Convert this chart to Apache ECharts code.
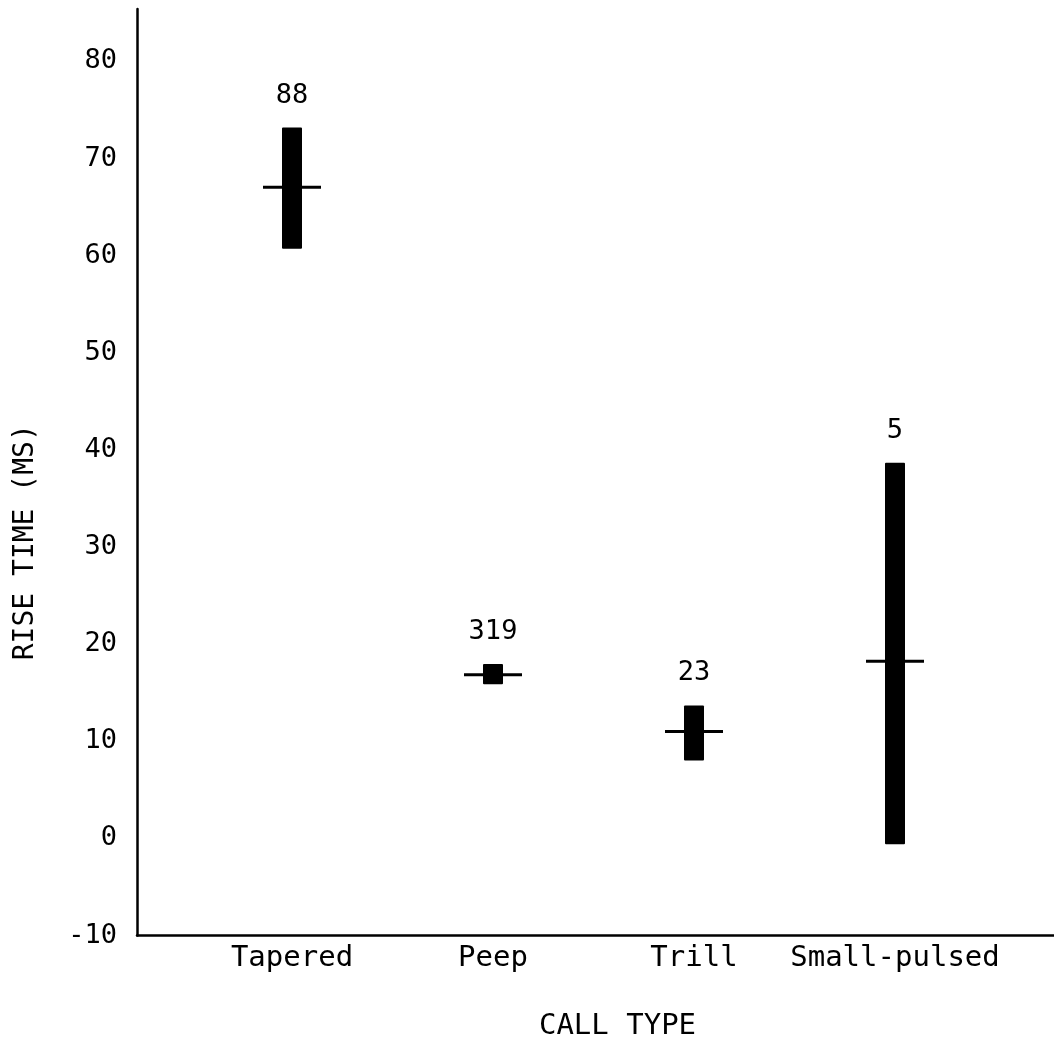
<!DOCTYPE html>
<html>
<head>
<meta charset="utf-8">
<script src="https://cdn.jsdelivr.net/npm/echarts@6/dist/echarts.min.js"></script>
<style>
html,body{margin:0;padding:0;background:#fff;}
#chart{width:1054px;height:1046px;}
</style>
</head>
<body>
<div id="chart"></div>
<script>
// ---- data ----
const categories = ['Tapered', 'Peep', 'Trill', 'Small-pulsed'];
const rangeLow   = [60.5, 15.3, 7.4, -1.3];
const rangeHigh  = [73.1, 17.4, 13.1, 38.3];
const medians    = [66.9, 16.3, 10.4, 17.7];
const counts     = [88, 319, 23, 5];
const yTicks     = [-10, 0, 10, 20, 30, 40, 50, 60, 70, 80];

const FONT = '"DejaVu Sans Mono", "Liberation Mono", monospace';
const seriesData = categories.map((c, i) => [i, rangeLow[i], rangeHigh[i], medians[i], counts[i]]);

const chart = echarts.init(document.getElementById('chart'), null, {renderer: 'canvas'});
const yMin = yTicks[0], yMax = 85.4;

chart.setOption({
  backgroundColor: '#ffffff',
  animation: false,
  grid: [
    {left: 137, right: 0, top: 9, bottom: 110.5},
    {left: 191.5, right: 58.5, top: 9, bottom: 110.5}
  ],
  xAxis: [
    {
      gridIndex: 0, type: 'value', min: 0, max: 1,
      axisLine: {show: true, onZero: false, lineStyle: {color: '#000', width: 2.5}},
      axisTick: {show: false}, axisLabel: {show: false}, splitLine: {show: false}
    },
    {
      gridIndex: 1, type: 'category', data: categories,
      axisLine: {show: false, onZero: false}, axisTick: {show: false}, splitLine: {show: false},
      axisLabel: {color: '#000', fontFamily: FONT, fontSize: 29, margin: 16, interval: 0},
      name: 'CALL TYPE', nameLocation: 'middle', nameGap: 84,
      nameTextStyle: {color: '#000', fontFamily: FONT, fontSize: 29, padding: [0, 0, 0, 48]}
    }
  ],
  yAxis: [
    {
      gridIndex: 0, type: 'value', min: yMin, max: yMax, interval: 10,
      axisLine: {show: true, onZero: false, lineStyle: {color: '#000', width: 2.5}},
      axisTick: {show: false}, splitLine: {show: false},
      axisLabel: {
        color: '#000', fontFamily: FONT, fontSize: 27, margin: 20,
        showMaxLabel: false,
        formatter: v => (yTicks.indexOf(v) >= 0 ? String(v) : '')
      },
      name: 'RISE TIME (MS)', nameLocation: 'middle', nameGap: 97, nameRotate: 90,
      nameTextStyle: {color: '#000', fontFamily: FONT, fontSize: 28, padding: [0, 140, 0, 0]}
    },
    {
      gridIndex: 1, type: 'value', min: yMin, max: yMax, interval: 10, show: false,
      splitLine: {show: false}
    }
  ],
  series: [{
    type: 'custom',
    xAxisIndex: 1, yAxisIndex: 1,
    data: seriesData,
    encode: {x: 0, y: [1, 2, 3]},
    renderItem: function (params, api) {
      const x = api.value(0);
      const pHigh = api.coord([x, api.value(2)]);
      const pLow = api.coord([x, api.value(1)]);
      const pMed = api.coord([x, api.value(3)]);
      const n = api.value(4);
      return {
        type: 'group',
        children: [
          {type: 'rect', shape: {x: pHigh[0] - 10, y: pHigh[1], width: 20, height: pLow[1] - pHigh[1], r: 1},
           style: {fill: '#000'}},
          {type: 'line', shape: {x1: pMed[0] - 29, y1: pMed[1], x2: pMed[0] + 29, y2: pMed[1]},
           style: {stroke: '#000', lineWidth: 3}},
          {type: 'text', x: pHigh[0], y: pHigh[1] - 32,
           style: {text: String(n), fill: '#000', font: '27px ' + FONT, align: 'center', verticalAlign: 'middle'}}
        ]
      };
    }
  }]
});
</script>
</body>
</html>
